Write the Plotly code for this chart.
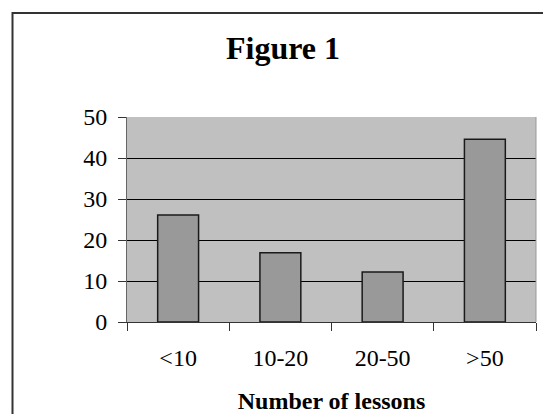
import plotly.graph_objects as go

categories = ["<10", "10-20", "20-50", ">50"]
values = [26.1, 16.9, 12.2, 44.6]
y_ticks = [0, 10, 20, 30, 40, 50]

# the page body has an 8px margin, so the figure is drawn offset by 8px
OFF = 8
W, H = 551 - OFF, 414 - OFF
L, R, T, B = 127 - OFF, 15, 117 - OFF, 92
pw, ph = W - L - R, H - T - B

def px_x(p):
    return (p - OFF - L) / pw

def px_y(p):
    return (H - B - (p - OFF)) / ph

FONT = "Liberation Serif, Times New Roman, serif"

fig = go.Figure(go.Bar(
    x=categories, y=values,
    marker=dict(color="#999999", line=dict(color="#1a1a1a", width=1.5)),
    width=0.4,
))

fig.update_layout(
    width=W, height=H,
    margin=dict(l=L, r=R, t=T, b=B, pad=0, autoexpand=False),
    paper_bgcolor="white",
    plot_bgcolor="#C0C0C0",
    showlegend=False,
    font=dict(family=FONT, size=24, color="black"),
    title=dict(text="<b>Figure 1</b>", font=dict(family=FONT, size=32, color="black"),
               x=(283 - OFF) / W, xanchor="center", y=1 - (48 - OFF) / H, yanchor="middle"),
    xaxis=dict(
        type="category", tickson="boundaries", ticks="outside", ticklen=8,
        tickcolor="#333333", tickwidth=1, showgrid=False, zeroline=False,
        showline=True, linecolor="#333333", linewidth=1, automargin=False,
        ticklabelstandoff=14,
        title=dict(text="<b>Number of lessons</b>", font=dict(family=FONT, size=24),
                   standoff=24),
    ),
    yaxis=dict(
        range=[0, 50], tickvals=y_ticks, ticks="outside", ticklen=8,
        tickcolor="#333333", tickwidth=1, showgrid=True, gridcolor="black", gridwidth=1,
        zeroline=False, showline=True, linecolor="#666666", linewidth=1, automargin=False,
        ticklabelstandoff=6,
    ),
    shapes=[
        dict(type="rect", xref="paper", yref="paper",
             x0=px_x(12.5), x1=px_x(620), y0=px_y(480), y1=px_y(13),
             line=dict(color="#333333", width=2), fillcolor="rgba(0,0,0,0)", layer="above"),
        dict(type="line", xref="paper", yref="paper",
             x0=1, x1=1, y0=0, y1=1, line=dict(color="#999999", width=1)),
    ],
)

fig.write_html("out.html")
